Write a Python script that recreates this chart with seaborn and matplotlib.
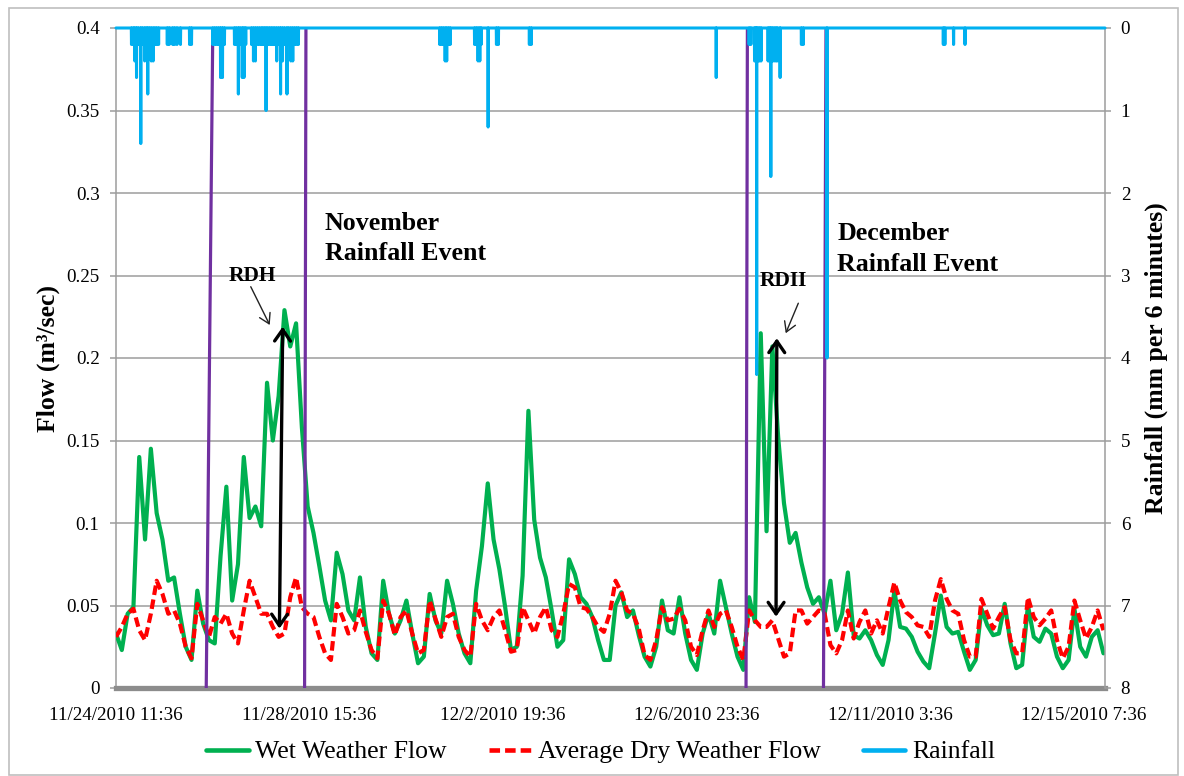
import numpy as np
import pandas as pd
import matplotlib
matplotlib.use("Agg")
import matplotlib.pyplot as plt
import seaborn as sns
from matplotlib.lines import Line2D
from matplotlib.patches import Rectangle
from matplotlib.ticker import FixedLocator, FuncFormatter

# Flow readings every 3 hours (m3/sec), starting 11/24/2010 11:36
START = pd.Timestamp("2010-11-24 11:36")
STEP_H = 3

wet_flow = [
    0.033, 0.023, 0.045, 0.049, 0.140, 0.090, 0.145, 0.106, 0.090, 0.065,
    0.067, 0.045, 0.025, 0.017, 0.059, 0.039, 0.029, 0.027, 0.080, 0.122,
    0.053, 0.075, 0.140, 0.103, 0.110, 0.098, 0.185, 0.150, 0.177, 0.229,
    0.207, 0.221, 0.158, 0.110, 0.094, 0.074, 0.053, 0.041, 0.082, 0.069,
    0.047, 0.041,
    0.067, 0.037, 0.021, 0.017, 0.065, 0.045, 0.033, 0.041,
    0.053, 0.033, 0.015, 0.019, 0.057, 0.041, 0.033, 0.065, 0.051, 0.033,
    0.021, 0.015, 0.059, 0.086, 0.124, 0.090, 0.072, 0.049, 0.023, 0.025,
    0.068, 0.168, 0.102, 0.079, 0.067, 0.047, 0.025, 0.029, 0.078, 0.069,
    0.055, 0.051, 0.043, 0.029, 0.017,
    0.017, 0.050, 0.058, 0.043, 0.047, 0.032, 0.019, 0.013, 0.025, 0.053,
    0.035, 0.033, 0.055, 0.033, 0.017, 0.011, 0.033, 0.045, 0.033, 0.065,
    0.049, 0.033, 0.019, 0.011, 0.055, 0.040, 0.215, 0.095, 0.207, 0.152,
    0.112, 0.088, 0.094, 0.076, 0.061, 0.051, 0.055, 0.045, 0.065, 0.035,
    0.045, 0.070,
    0.032, 0.030, 0.035, 0.029, 0.020, 0.014, 0.029, 0.059, 0.037, 0.036,
    0.031, 0.022, 0.016, 0.012, 0.033, 0.056, 0.037, 0.033, 0.034, 0.022,
    0.011, 0.017, 0.048, 0.038, 0.032, 0.033, 0.051, 0.027, 0.012, 0.014,
    0.050, 0.031, 0.028, 0.036, 0.033, 0.019, 0.012, 0.017, 0.048, 0.025,
    0.019, 0.031, 0.035, 0.021,
]

dry_flow = [
    0.031, 0.037, 0.045, 0.048, 0.035, 0.029, 0.045, 0.065, 0.057, 0.045,
    0.047, 0.039, 0.025, 0.018, 0.051, 0.041, 0.031, 0.043, 0.039, 0.045,
    0.033, 0.027, 0.047, 0.065, 0.055, 0.045, 0.045, 0.037, 0.031, 0.033,
    0.055, 0.067, 0.049, 0.045, 0.043, 0.031, 0.021, 0.017, 0.051, 0.043,
    0.033, 0.035,
    0.047, 0.034, 0.023, 0.018, 0.053, 0.045, 0.032, 0.043, 0.047, 0.033,
    0.021, 0.023, 0.053, 0.042, 0.031, 0.043, 0.045, 0.031, 0.023, 0.019,
    0.051, 0.041, 0.035, 0.043, 0.047, 0.035, 0.022, 0.023, 0.049, 0.041,
    0.033, 0.043, 0.049, 0.035, 0.031, 0.045, 0.063, 0.061, 0.049, 0.048,
    0.043, 0.037, 0.034,
    0.045, 0.065, 0.058, 0.047, 0.045, 0.036, 0.020, 0.017, 0.029, 0.049,
    0.041, 0.042, 0.048, 0.041, 0.025, 0.020, 0.035, 0.047, 0.037, 0.045,
    0.047, 0.037, 0.025, 0.017, 0.047, 0.041, 0.037, 0.037, 0.041, 0.030,
    0.019, 0.021, 0.047, 0.047, 0.039, 0.043, 0.047, 0.045, 0.026, 0.021,
    0.029, 0.047,
    0.030, 0.040, 0.047, 0.033, 0.041, 0.033, 0.049, 0.064, 0.053, 0.046,
    0.043, 0.038, 0.037, 0.031, 0.053, 0.066, 0.054, 0.047, 0.045, 0.029,
    0.019, 0.019, 0.054, 0.045, 0.036, 0.043, 0.049, 0.029, 0.021, 0.021,
    0.055, 0.043, 0.038, 0.042, 0.047, 0.029, 0.018, 0.025, 0.053, 0.041,
    0.030, 0.037, 0.047, 0.035,
]

# Rain gauge tips (hours after start, mm per 6 minutes); all other 6-min slots are dry
rain_hours = [
    8.0, 9.0, 9.7, 10.6, 11.5, 12.8, 13.7, 14.8, 15.6, 16.4, 17.3, 18.2, 19.2, 20.1, 21.0, 22.0,
    26.5, 27.5, 29.3, 30.3, 31.5, 33.3, 38.0, 39.0,
    50.0, 51.0, 52.0, 53.0, 54.0, 55.0, 56.0,
    61.2, 62.1, 63.2, 64.1, 65.2, 66.1, 67.0,
    70.0, 71.0, 72.0, 73.0, 74.0, 75.0, 75.8, 76.6, 77.5, 78.4, 79.3, 80.2, 81.1,
    82.0, 83.0, 84.0, 85.0, 86.0, 87.0, 88.3, 89.2, 90.3, 91.3, 92.3, 93.3, 94.2,
    167.2, 168.1, 169.0, 170.0, 170.8, 171.7, 172.6,
    185.2, 186.1, 187.0, 187.9, 188.6,
    192.2, 196.5, 197.5, 213.5, 214.5,
    310.0, 327.0, 327.9,
    329.8, 330.4, 330.9, 331.6, 332.4, 333.2,
    336.8, 337.5, 338.2, 339.0, 339.9, 340.8, 341.5, 343.0,
    354.0, 355.0, 367.2,
    427.3, 428.1, 432.6, 438.5,
]
rain_mm = [
    0.2, 0.2, 0.4, 0.6, 0.2, 1.4, 0.2, 0.4, 0.2, 0.8, 0.2, 0.4, 0.4, 0.2, 0.2, 0.2,
    0.2, 0.2, 0.2, 0.2, 0.2, 0.2, 0.2, 0.2,
    0.2, 0.2, 0.2, 0.2, 0.6, 0.6, 0.2,
    0.2, 0.2, 0.8, 0.2, 0.6, 0.6, 0.2,
    0.2, 0.4, 0.4, 0.2, 0.2, 0.2, 0.2, 0.2, 1.0, 0.2, 0.2, 0.2, 0.2,
    0.2, 0.4, 0.2, 0.8, 0.4, 0.2, 0.8, 0.2, 0.4, 0.4, 0.2, 0.2, 0.2,
    0.2, 0.2, 0.2, 0.4, 0.4, 0.2, 0.2,
    0.2, 0.2, 0.4, 0.4, 0.2,
    1.2, 0.2, 0.2, 0.2, 0.2,
    0.6, 0.2, 0.2,
    0.4, 0.4, 4.2, 0.4, 0.4, 0.4,
    0.4, 0.4, 1.8, 0.4, 0.4, 0.4, 0.4, 0.6,
    0.2, 0.2, 4.0,
    0.2, 0.2, 0.2, 0.2,
]

# Rainfall event boundaries (hours after start) at the top and bottom of the plot
event_top_h = [50.0, 98.1, 326.1, 366.7]
event_bottom_h = [46.6, 97.4, 325.4, 365.4]

X_MAX_H = 510.8
GREEN, RED, BLUE, PURPLE = "#00B050", "#FF0000", "#00B0F0", "#7030A0"
GRID = "#9C9C9C"

sns.set_theme(style="white")
plt.rcParams["font.family"] = ["Liberation Serif", "DejaVu Serif"]
plt.rcParams.update({"text.color": "black", "axes.labelcolor": "black",
                     "xtick.color": "black", "ytick.color": "black"})

flow_df = pd.DataFrame({
    "hours": np.arange(len(wet_flow)) * STEP_H,
    "wet": wet_flow,
    "dry": dry_flow,
})

rain_grid = np.zeros(int(round(X_MAX_H * 10)) + 1)
rain_grid[np.round(np.array(rain_hours) * 10).astype(int)] = rain_mm
rain_df = pd.DataFrame({"hours": np.arange(len(rain_grid)) / 10, "mm": rain_grid})

fig = plt.figure(figsize=(11.84, 7.76), dpi=100)
ax = fig.add_axes([116 / 1184, 88 / 776, 989 / 1184, 660 / 776])

sns.lineplot(data=flow_df, x="hours", y="wet", ax=ax, color=GREEN, lw=3.0,
             zorder=3, legend=False)
sns.lineplot(data=flow_df, x="hours", y="dry", ax=ax, color=RED, lw=3.0,
             linestyle=(0, (2.3, 1.1)), zorder=3.5, legend=False)

for top, bottom in zip(event_top_h, event_bottom_h):
    ax.plot([top, bottom], [0.4, 0.0], color=PURPLE, lw=2.3, zorder=4,
            solid_capstyle="butt")

ax.set_xlim(0, X_MAX_H)
ax.set_ylim(0, 0.4)
ax.set_xlabel("")
ax.set_ylabel("Flow (m³/sec)", fontsize=18.5, fontweight="bold")
ax.yaxis.set_label_coords(-0.057, 0.5)

ax.set_yticks(np.arange(0, 0.401, 0.05))
ax.yaxis.set_major_formatter(FuncFormatter(lambda v, _: f"{v:.2f}".rstrip("0").rstrip(".")))


def hour_label(h, _):
    d = START + pd.Timedelta(hours=h)
    return f"{d.month}/{d.day}/{d.year} {d.hour}:{d.minute:02d}"


ax.xaxis.set_major_locator(FixedLocator([0, 100, 200, 300, 400, 500]))
ax.xaxis.set_major_formatter(FuncFormatter(hour_label))
ax.tick_params(axis="x", length=0, pad=13.5, labelsize=13.7)
ax.tick_params(axis="y", length=4.3, width=1.1, color=GRID, pad=7.5, labelsize=13.7,
               left=True)

ax.yaxis.grid(True, color=GRID, lw=1.1)
ax.xaxis.grid(False)
ax.spines["top"].set_visible(False)
ax.spines["right"].set_visible(False)
ax.spines["left"].set_color(GRID)
ax.spines["left"].set_linewidth(1.1)
ax.spines["bottom"].set_color("#8C8C8C")
ax.spines["bottom"].set_linewidth(3.8)

# secondary axis for rainfall, drawn downward from the top
ax2 = ax.twinx()
ax2.plot(rain_df["hours"], rain_df["mm"], color=BLUE, lw=2.2, clip_on=False,
         zorder=5)
ax2.set_ylim(8, 0)
ax2.set_xlim(0, X_MAX_H)
ax2.set_yticks(range(0, 9))
ax2.tick_params(axis="y", length=4.3, width=1.1, color=GRID, pad=7, labelsize=13.7,
                right=True)
ax2.set_ylabel("Rainfall (mm per 6 minutes)", fontsize=18.5, fontweight="bold")
ax2.yaxis.set_label_coords(1.04, 0.5)
for side in ["top", "bottom", "left"]:
    ax2.spines[side].set_visible(False)
ax2.spines["right"].set_color(GRID)
ax2.spines["right"].set_linewidth(1.1)

# event labels and RDII annotations
ax.text(107.7, 0.2887, "November\nRainfall Event", fontsize=18.6, fontweight="bold",
        ha="left", va="top", linespacing=1.4, zorder=6)
ax.text(372.6, 0.2822, "December\nRainfall Event", fontsize=18.6, fontweight="bold",
        ha="left", va="top", linespacing=1.4, zorder=6)

ax.text(70.6, 0.2497, "RDH", fontsize=15.5, fontweight="bold", ha="center",
        va="center", zorder=6)
ax.text(344.5, 0.2467, "RDII", fontsize=15.5, fontweight="bold", ha="center",
        va="center", zorder=6)

thin = dict(arrowstyle="->,head_length=0.5,head_width=0.3", lw=1.0,
            color="#222222", mutation_scale=14, shrinkA=0, shrinkB=0)
ax.annotate("", xy=(79.4, 0.220), xytext=(69.6, 0.2432), arrowprops=thin, zorder=6)
ax.annotate("", xy=(345.9, 0.215), xytext=(352.4, 0.2332), arrowprops=thin, zorder=6)

thick = dict(arrowstyle="<->,head_length=0.55,head_width=0.38", lw=2.4,
             color="black", mutation_scale=15, shrinkA=0, shrinkB=0)
ax.annotate("", xy=(86.1, 0.219), xytext=(84.4, 0.036), arrowprops=thick, zorder=6)
ax.annotate("", xy=(341.3, 0.212), xytext=(340.9, 0.0432), arrowprops=thick, zorder=6)

handles = [
    Line2D([], [], color=GREEN, lw=3.3),
    Line2D([], [], color=RED, lw=3.3, linestyle=(0, (2.3, 1.1))),
    Line2D([], [], color=BLUE, lw=3.3),
]
fig.legend(handles, ["Wet Weather Flow", "Average Dry Weather Flow", "Rainfall"],
           loc="center", bbox_to_anchor=(600.5 / 1184, 1 - 752 / 776), ncol=3,
           frameon=False, fontsize=18.5, handlelength=1.65, handletextpad=0.25,
           columnspacing=1.65)

fig.patches.append(Rectangle((9 / 1184, 1 / 776), 1169 / 1184, 767 / 776,
                             transform=fig.transFigure, fill=False,
                             ec="#BFBFBF", lw=1.2))

fig.savefig("out.png", dpi=100)
